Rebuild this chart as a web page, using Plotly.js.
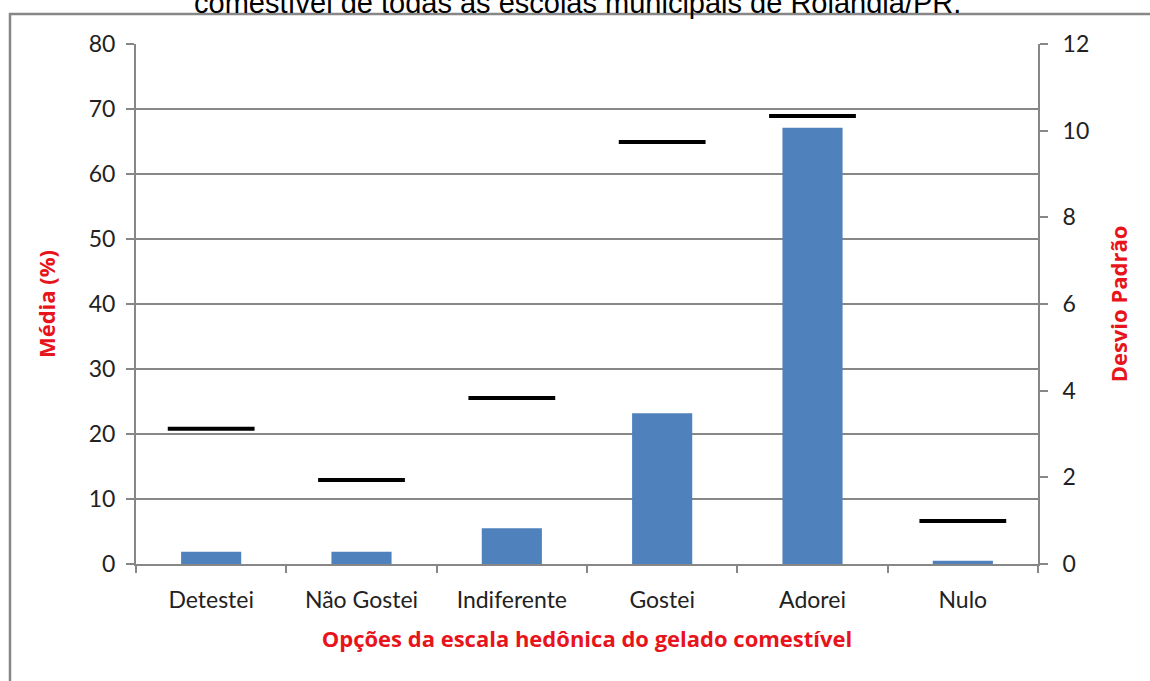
<!DOCTYPE html>
<html>
<head>
<meta charset="utf-8">
<script src="https://cdn.plot.ly/plotly-3.0.1.min.js"></script>
<style>html,body{margin:0;padding:0;background:#fff;}#chart{width:1150px;height:681px;}</style>
</head>
<body>
<div id="chart"></div>
<script>
const categories = ["Detestei", "Não Gostei", "Indiferente", "Gostei", "Adorei", "Nulo"];
const mediaValues = [1.9, 1.9, 5.5, 23.2, 67.1, 0.5];
const desvioValues = [3.12, 1.94, 3.83, 9.74, 10.34, 0.99];
const leftTicks = [0, 10, 20, 30, 40, 50, 60, 70, 80];
const rightTicks = [0, 2, 4, 6, 8, 10, 12];

const tickFont = {family: "Lato, 'Open Sans', sans-serif", size: 23, color: "#222"};
const titleFont = {family: "'Open Sans', Lato, sans-serif", size: 22, color: "#e8141b", weight: "bold"};
const gray = "#878787";

const traces = [
  {
    type: "bar", x: categories, y: mediaValues, width: 0.4,
    marker: {color: "#4F81BD"}, yaxis: "y", hoverinfo: "x+y", name: "Média"
  },
  {
    type: "scatter", mode: "markers", x: categories, y: desvioValues, yaxis: "y2",
    marker: {symbol: "line-ew", size: 62, color: "#000", line: {color: "#000", width: 4}},
    name: "Desvio Padrão"
  }
];

const layout = {
  width: 1150, height: 681,
  margin: {l: 136, r: 112, t: 44, b: 117},
  paper_bgcolor: "#fff", plot_bgcolor: "#fff",
  showlegend: false,
  xaxis: {
    type: "category", range: [-0.5, 5.5],
    showgrid: false, showline: true, linecolor: gray, linewidth: 2,
    ticks: "outside", tickson: "boundaries", ticklen: 7, tickwidth: 2, tickcolor: gray,
    tickfont: tickFont, ticklabelstandoff: 14,
    title: {text: "Opções da escala hedônica do gelado comestível", font: titleFont, standoff: 20},
    zeroline: false
  },
  yaxis: {
    range: [0, 80], tickvals: leftTicks, ticktext: leftTicks.map(String),
    showgrid: true, gridcolor: gray, gridwidth: 2,
    showline: true, linecolor: gray, linewidth: 2,
    ticks: "outside", ticklen: 8, tickwidth: 2, tickcolor: gray,
    tickfont: tickFont, ticklabelstandoff: 6, zeroline: false,
    title: {text: "Média (%)", font: titleFont, standoff: 27}
  },
  yaxis2: {
    range: [0, 12], overlaying: "y", side: "right",
    tickvals: rightTicks, ticktext: rightTicks.map(String),
    showgrid: false, showline: true, linecolor: gray, linewidth: 2,
    ticks: "outside", ticklen: 8, tickwidth: 2, tickcolor: gray,
    tickfont: tickFont, ticklabelstandoff: 10, zeroline: false,
    title: {text: "Desvio Padrão", font: titleFont, standoff: 23}
  },
  annotations: [{
    text: "comestível de todas as escolas municipais de Rolândia/PR.",
    xref: "paper", yref: "paper", x: 0.489, y: 1.044,
    xanchor: "center", yanchor: "bottom", showarrow: false,
    font: {family: "'Liberation Sans', Arial, sans-serif", size: 29, color: "#000"}
  }],
  shapes: [{
    type: "path", xref: "paper", yref: "paper",
    path: "M 1.13,1.0577 L -0.1397,1.0577 L -0.1397,-0.25",
    line: {color: gray, width: 2.5}
  }]
};

Plotly.newPlot("chart", traces, layout, {displayModeBar: false, staticPlot: true});
</script>
</body>
</html>
